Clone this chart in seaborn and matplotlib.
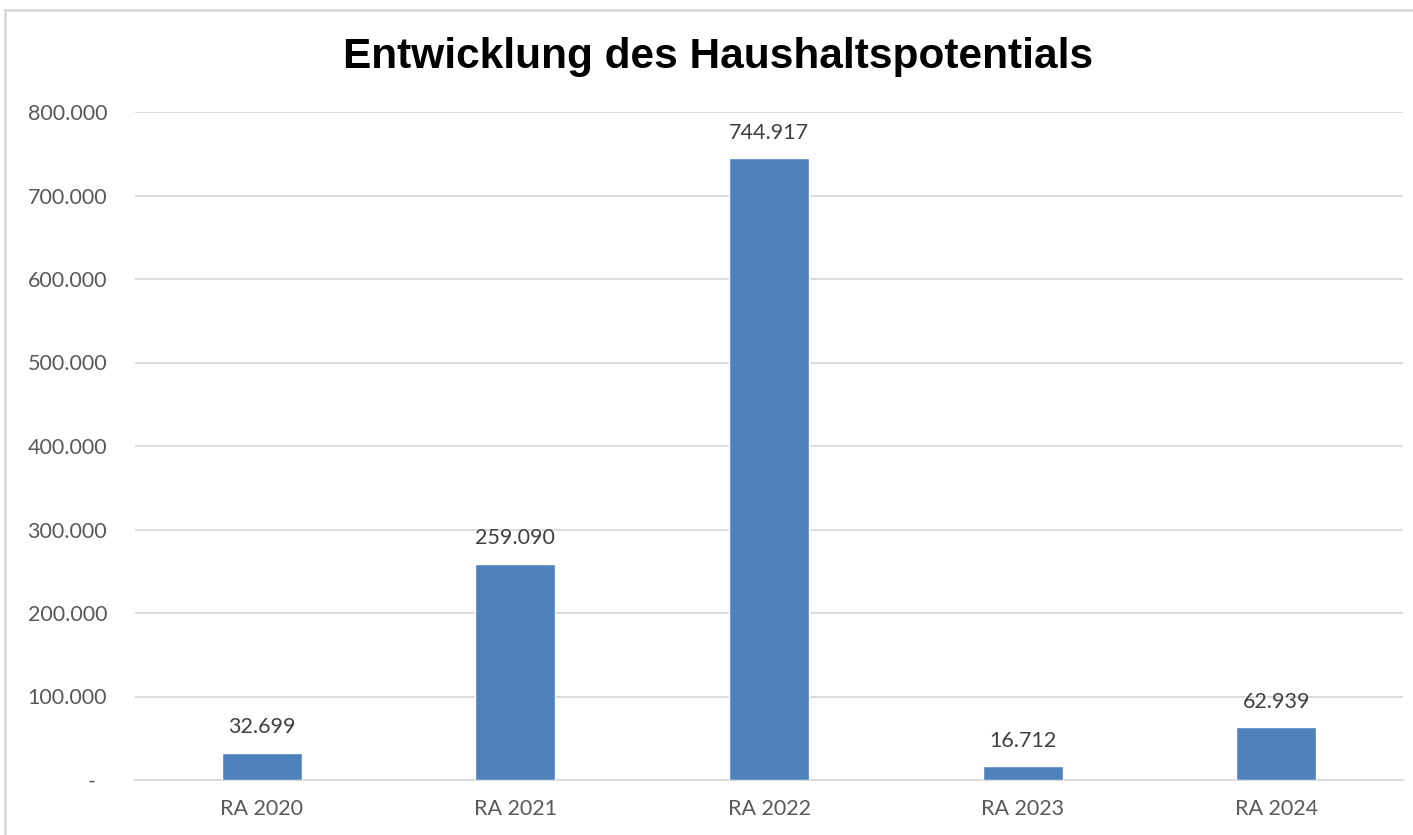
import matplotlib
matplotlib.use("Agg")
import matplotlib.pyplot as plt
import seaborn as sns
import pandas as pd
from matplotlib.patches import Rectangle

categories = ["RA 2020", "RA 2021", "RA 2022", "RA 2023", "RA 2024"]
values = [32699, 259090, 744917, 16712, 62939]
title = "Entwicklung des Haushaltspotentials"

ytick_values = [0, 100000, 200000, 300000, 400000, 500000, 600000, 700000, 800000]


def fmt_de(v):
    # Tausenderpunkt wie in Excel, null als Strich
    if v == 0:
        return "-  "
    return f"{v:,.0f}".replace(",", ".")


df = pd.DataFrame({"kategorie": categories, "wert": values})

sns.set_theme(style="white")
plt.rcParams["font.family"] = ["Lato", "DejaVu Sans"]

text_col = "#595959"
grid_col = "#D9D9D9"
bar_col = "#4F81BD"

fig = plt.figure(figsize=(14.13, 8.35), dpi=100)
ax = fig.add_axes([135 / 1413, 1 - 780 / 835, 1268 / 1413, (780 - 112) / 835])

sns.barplot(data=df, x="kategorie", y="wert", color=bar_col, width=0.316,
            saturation=1, ax=ax, zorder=3)

ax.set_ylim(0, 800000)
ax.set_xlim(-0.5, len(categories) - 0.5)
ax.set_yticks(ytick_values)
ax.set_yticklabels([fmt_de(v) for v in ytick_values])
ax.yaxis.grid(True, color=grid_col, linewidth=1.3, zorder=0)
ax.set_axisbelow(True)
for s in ["top", "right", "left"]:
    ax.spines[s].set_visible(False)
ax.spines["bottom"].set_color(grid_col)
ax.spines["bottom"].set_linewidth(1.3)
ax.tick_params(axis="both", length=0, labelsize=15.5, colors=text_col)
ax.tick_params(axis="y", pad=20)
ax.tick_params(axis="x", pad=14)
ax.set_xlabel("")
ax.set_ylabel("")

for i, v in enumerate(values):
    ax.annotate(fmt_de(v), (i, v), xytext=(0, 11), textcoords="offset points",
                ha="center", va="bottom", fontsize=15.5, color="#404040")

fig.text(718 / 1413, 1 - 57 / 835, title, ha="center", va="center",
         fontsize=30.5, fontweight="bold", family="Liberation Sans", color="black")

# Rahmen des Diagrammbereichs (nur links und oben sichtbar)
fig.patches.append(Rectangle((5 / 1413, -0.1), 1.2, 1 - 10 / 835 + 0.1,
                             transform=fig.transFigure, fill=False,
                             edgecolor="#D9D9D9", linewidth=2))

fig.savefig("out.png", dpi=100)
